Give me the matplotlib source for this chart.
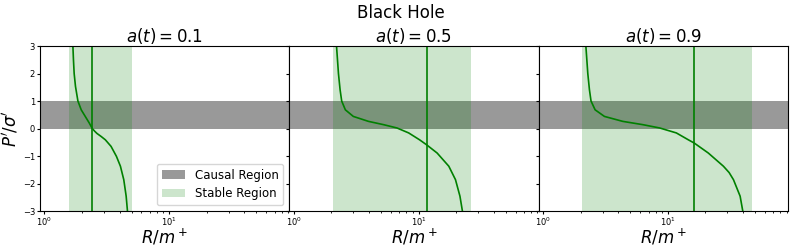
import numpy as np
import matplotlib.pyplot as plt
from matplotlib.patches import Patch

a_values = [0.1, 0.5, 0.9]

# curve points (R/m+, P'/sigma')
R_01 = [1.690, 1.708, 1.730, 1.773, 1.854, 1.971, 2.123, 2.287, 2.417, 2.530, 2.638, 2.85, 3.077, 3.42, 3.775, 4.065, 4.325, 4.52, 4.63]
P_01 = [3.0, 2.49, 2.0, 1.53, 1.0, 0.68, 0.44, 0.20, 0.0, -0.10, -0.18, -0.29, -0.41, -0.65, -1.01, -1.37, -1.86, -2.46, -3.0]

R_05 = [2.20, 2.28, 2.35, 2.42, 2.59, 3.00, 3.97, 5.25, 6.72, 8.34, 10.2, 11.6, 14.1, 17.5, 19.8, 21.5, 22.5]
P_05 = [3.0, 2.0, 1.41, 1.0, 0.68, 0.44, 0.26, 0.14, 0.02, -0.16, -0.41, -0.59, -0.89, -1.37, -1.86, -2.46, -3.0]

R_09 = [2.20, 2.28, 2.35, 2.42, 2.61, 3.10, 4.35, 6.31, 8.6, 11.7, 14.6, 16.3, 21.1, 27.9, 31.0, 33.6, 38.0, 39.9]
P_09 = [3.0, 2.0, 1.41, 1.0, 0.68, 0.44, 0.26, 0.14, 0.02, -0.16, -0.41, -0.53, -0.89, -1.37, -1.60, -1.86, -2.46, -3.0]

curves_R = [R_01, R_05, R_09]
curves_P = [P_01, P_05, P_09]

R_mark = [2.42, 11.6, 16.3]
stable_lo = [1.58, 2.05, 2.05]
stable_hi = [5.04, 26.5, 47.4]

fig, axes = plt.subplots(1, 3, figsize=(7.93, 2.48), dpi=100, sharey=True)
fig.subplots_adjust(left=0.0504, right=0.9937, top=0.8145, bottom=0.149, wspace=0)

for i, ax in enumerate(axes):
    ax.axhspan(0, 1, color="gray", alpha=0.8, lw=0)
    ax.axvspan(stable_lo[i], stable_hi[i], color="green", alpha=0.2, lw=0)
    ax.plot(curves_R[i], curves_P[i], color="green", lw=1.2)
    ax.axvline(R_mark[i], color="green", lw=1.2)
    ax.set_xscale("log")
    ax.set_xlim(0.92, 92)
    ax.set_ylim(-3, 3)
    ax.set_title(rf"$a(t) = {a_values[i]}$", fontsize=12, pad=3)
    ax.set_xlabel(r"$R/m^+$", fontsize=12, labelpad=-1)
    ax.tick_params(labelsize=6, length=2.5, pad=1)
    ax.tick_params(which="minor", length=1.5)

axes[0].set_ylabel(r"$P'/\sigma'$", fontsize=12, labelpad=2)

handles = [Patch(facecolor="gray", alpha=0.8, label="Causal Region"),
           Patch(facecolor="green", alpha=0.2, label="Stable Region")]
axes[0].legend(handles=handles, loc="lower right", fontsize=8.5)

fig.suptitle("Black Hole", fontsize=12, x=0.505, y=0.985)
fig.savefig("out.png", dpi=100)
